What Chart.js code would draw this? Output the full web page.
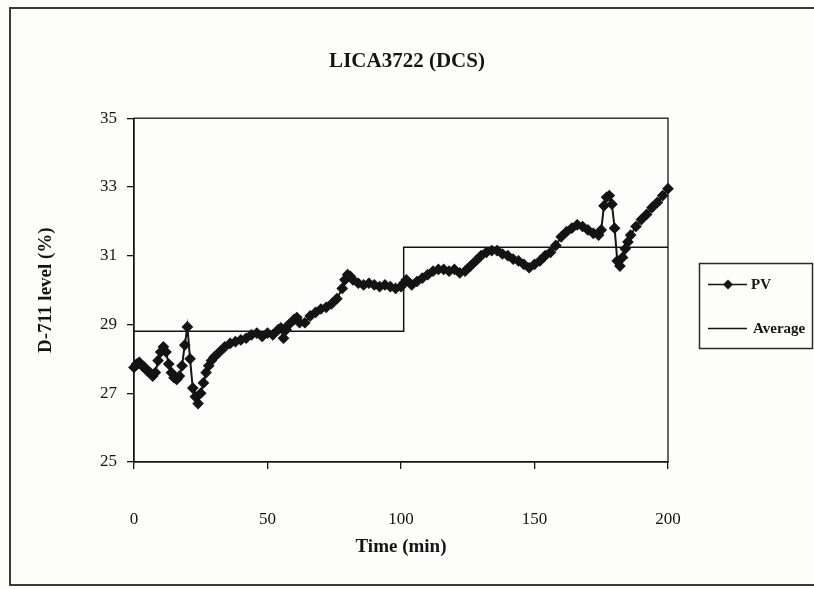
<!DOCTYPE html>
<html>
<head>
<meta charset="utf-8">
<title>LICA3722 (DCS)</title>
<script src="https://cdn.jsdelivr.net/npm/chart.js@4.4.1/dist/chart.umd.min.js"></script>
<style>
  html, body { margin: 0; padding: 0; background: #fff; }
  #chart { display: block; }
</style>
</head>
<body>
<canvas id="chart" width="814" height="589"></canvas>
<script>
// D-711 level, PV trend (minutes vs %)
const pvTime = [0, 1, 2, 3, 4, 5, 6, 7, 8, 9, 10, 11, 12, 13, 14, 15, 16, 17, 18, 19,
  20, 21, 22, 23, 24, 25, 26, 27, 28, 29, 30, 32, 34, 36, 38, 40, 42, 44, 46, 48,
  50, 52, 54, 55, 56, 57, 58, 60, 61, 62, 64, 66, 68, 70, 72, 74, 76, 78, 79, 80,
  81, 82, 84, 86, 88, 90, 92, 94, 96, 98, 100, 101, 102, 104, 106, 108, 110, 112, 114, 116,
  118, 120, 122, 124, 126, 128, 130, 132, 134, 136, 138, 140, 142, 144, 146, 148, 150, 152, 154, 156,
  158, 160, 162, 164, 166, 168, 170, 172, 174, 175, 176, 177, 178, 179, 180, 181, 182, 183, 184, 185,
  186, 188, 190, 192, 194, 196, 198, 200];
const pvLevel = [27.75, 27.85, 27.9, 27.8, 27.75, 27.65, 27.6, 27.5, 27.6, 27.95, 28.2, 28.35, 28.2, 27.85, 27.6, 27.45, 27.4, 27.5, 27.8, 28.4,
  28.93, 28.0, 27.15, 26.9, 26.7, 27.0, 27.3, 27.6, 27.8, 27.95, 28.05, 28.2, 28.35, 28.45, 28.5, 28.55, 28.6, 28.7, 28.75, 28.65,
  28.75, 28.7, 28.85, 28.9, 28.6, 28.85, 29.0, 29.15, 29.2, 29.05, 29.05, 29.25, 29.35, 29.45, 29.5, 29.6, 29.75, 30.05, 30.3, 30.45,
  30.4, 30.3, 30.2, 30.15, 30.2, 30.15, 30.1, 30.15, 30.1, 30.05, 30.1, 30.2, 30.3, 30.15, 30.25, 30.35, 30.45, 30.55, 30.6, 30.6,
  30.55, 30.6, 30.5, 30.55, 30.7, 30.85, 31.0, 31.1, 31.15, 31.15, 31.05, 31.0, 30.9, 30.85, 30.75, 30.65, 30.75, 30.85, 31.0, 31.1,
  31.3, 31.55, 31.7, 31.8, 31.9, 31.85, 31.75, 31.65, 31.6, 31.75, 32.45, 32.7, 32.75, 32.5, 31.8, 30.85, 30.7, 30.95, 31.2, 31.4,
  31.6, 31.85, 32.05, 32.2, 32.4, 32.55, 32.75, 32.95];

// step average over the two periods
const avgTime = [0, 101, 101, 200];
const avgLevel = [28.8, 28.8, 31.25, 31.25];

const xTicks = [0, 50, 100, 150, 200];
const yTicks = [25, 27, 29, 31, 33, 35];

const SERIF = "'Liberation Serif', 'Times New Roman', serif";
const INK = '#141414';

const toPoints = (xs, ys) => xs.map((x, i) => ({ x: x, y: ys[i] }));

// page frame, white background and the box round the plot area
const framePlugin = {
  id: 'frame',
  beforeDraw(chart) {
    const ctx = chart.ctx;
    ctx.save();
    ctx.fillStyle = '#fdfdfc';
    ctx.fillRect(0, 0, chart.width, chart.height);
    ctx.strokeStyle = '#3a3a3a';
    ctx.lineWidth = 2;
    ctx.beginPath();
    ctx.moveTo(chart.width, 8);
    ctx.lineTo(10, 8);
    ctx.lineTo(10, 585);
    ctx.lineTo(chart.width, 585);
    ctx.stroke();
    ctx.restore();
  },
  beforeDatasetsDraw(chart) {
    const { ctx, chartArea: a } = chart;
    ctx.save();
    ctx.strokeStyle = INK;
    ctx.lineWidth = 1.3;
    ctx.strokeRect(a.left, a.top, a.right - a.left, a.bottom - a.top);
    ctx.restore();
  }
};

// boxed legend to the right of the plot
const boxLegendPlugin = {
  id: 'boxLegend',
  afterDraw(chart) {
    const ctx = chart.ctx;
    const sets = chart.data.datasets;
    ctx.save();
    ctx.strokeStyle = '#2a2a2a';
    ctx.lineWidth = 1.5;
    ctx.strokeRect(699.5, 263.5, 113, 85);
    ctx.font = 'bold 15px ' + SERIF;
    ctx.textBaseline = 'middle';
    const rows = [284.5, 328.5];
    sets.forEach((ds, i) => {
      const y = rows[i];
      ctx.strokeStyle = ds.borderColor;
      ctx.lineWidth = 1.5;
      ctx.beginPath();
      ctx.moveTo(708, y);
      ctx.lineTo(747, y);
      ctx.stroke();
      if (ds.pointRadius > 0) {
        ctx.fillStyle = ds.pointBackgroundColor;
        ctx.beginPath();
        ctx.moveTo(728, y - 5);
        ctx.lineTo(733, y);
        ctx.lineTo(728, y + 5);
        ctx.lineTo(723, y);
        ctx.closePath();
        ctx.fill();
      }
      ctx.fillStyle = INK;
      ctx.fillText(ds.label, i === 0 ? 751 : 753, y + 1);
    });
    ctx.restore();
  }
};

new Chart(document.getElementById('chart'), {
  type: 'line',
  data: {
    datasets: [{
      label: 'PV',
      data: toPoints(pvTime, pvLevel),
      borderColor: INK,
      borderWidth: 2,
      pointStyle: 'rectRot',
      pointRadius: 5,
      pointBackgroundColor: INK,
      pointBorderColor: INK,
      pointBorderWidth: 1.2,
      clip: false,
      order: 1
    }, {
      label: 'Average',
      data: toPoints(avgTime, avgLevel),
      borderColor: INK,
      borderWidth: 1.5,
      pointRadius: 0,
      order: 2
    }]
  },
  options: {
    responsive: false,
    animation: false,
    events: [],
    layout: { padding: 0 },
    plugins: {
      legend: { display: false },
      tooltip: { enabled: false },
      title: {
        display: true,
        text: 'LICA3722 (DCS)',
        color: INK,
        font: { family: SERIF, size: 21, weight: 'bold' },
        padding: { top: 49, bottom: 44 }
      }
    },
    scales: {
      x: {
        type: 'linear',
        min: 0,
        max: 200,
        afterFit(scale) { scale.height = 127; },
        afterBuildTicks(scale) { scale.ticks = xTicks.map(v => ({ value: v })); },
        grid: { drawOnChartArea: false, drawTicks: true, tickLength: 7, color: INK, lineWidth: 1.3 },
        border: { display: true, color: INK, width: 1.3 },
        ticks: {
          color: INK,
          padding: 40,
          maxRotation: 0,
          font: { family: SERIF, size: 17 }
        },
        title: {
          display: true,
          text: 'Time (min)',
          color: INK,
          font: { family: SERIF, size: 19, weight: 'bold' },
          padding: { top: 0, bottom: 31 }
        }
      },
      y: {
        min: 25,
        max: 35,
        afterFit(scale) { scale.width = 134; },
        afterBuildTicks(scale) { scale.ticks = yTicks.map(v => ({ value: v })); },
        grid: { drawOnChartArea: false, drawTicks: true, tickLength: 7, color: INK, lineWidth: 1.3 },
        border: { display: true, color: INK, width: 1.3 },
        ticks: {
          color: INK,
          padding: 10,
          font: { family: SERIF, size: 17 }
        },
        title: {
          display: true,
          text: 'D-711 level (%)',
          color: INK,
          font: { family: SERIF, size: 19, weight: 'bold' },
          padding: { top: 35, bottom: 0 }
        }
      },
      // empty right-hand axis keeps room for the legend box
      yRoom: {
        position: 'right',
        display: true,
        afterFit(scale) { scale.width = 146; },
        grid: { display: false },
        border: { display: false },
        ticks: { display: false },
        title: { display: false }
      }
    }
  },
  plugins: [framePlugin, boxLegendPlugin]
});
</script>
</body>
</html>
